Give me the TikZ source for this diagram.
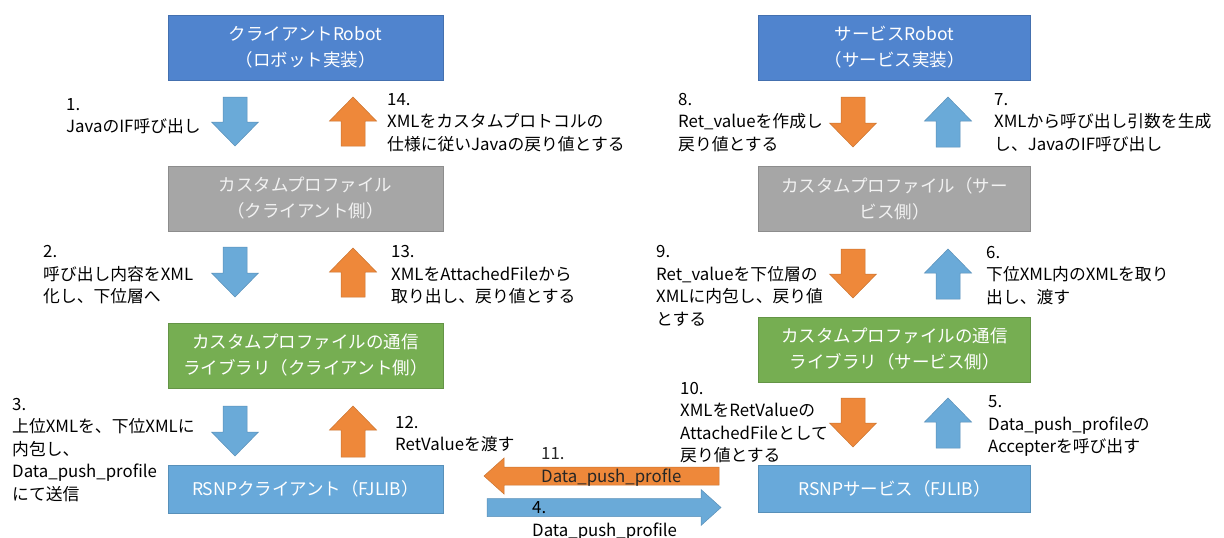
\documentclass[tikz,border=0pt]{standalone}
\usepackage{fontspec}
\setmainfont{Noto Sans CJK JP}
\usetikzlibrary{calc}
\definecolor{robotblue}{RGB}{80,132,206}
\definecolor{profgrey}{RGB}{166,166,166}
\definecolor{libgreen}{RGB}{118,174,82}
\definecolor{rsnpblue}{RGB}{104,169,218}
\definecolor{flowblue}{RGB}{106,170,216}
\definecolor{floworange}{RGB}{238,136,58}
% vertical block arrow: x, y of tail, y of tip, colour
\newcommand{\blockv}[4]{%
  \pgfmathsetmacro{\hb}{#3>#2 ? #3-24 : #3+24}
  \filldraw[fill=#4, draw=#4!85!black, line width=0.5pt] (#1-12,#2) -- (#1+12,#2) -- (#1+12,\hb) -- (#1+23.5,\hb) -- (#1,#3) -- (#1-23.5,\hb) -- (#1-12,\hb) -- cycle;}
% horizontal block arrow: y, x of tail, x of tip, colour
\newcommand{\blockh}[4]{%
  \pgfmathsetmacro{\hb}{#3>#2 ? #3-20 : #3+20}
  \filldraw[fill=#4, draw=#4!85!black, line width=0.5pt] (#2,#1-9) -- (#2,#1+9) -- (\hb,#1+9) -- (\hb,#1+18) -- (#3,#1) -- (\hb,#1-18) -- (\hb,#1-9) -- cycle;}
\begin{document}
\begin{tikzpicture}[x=1pt,y=-1pt,
    box/.style={minimum height=65, align=center, inner sep=0, text=white, line width=0.5pt,
      font=\fontsize{17.5}{26}\selectfont},
    lbox/.style={box, minimum width=275},
    rbox/.style={box, minimum width=272},
    lbl/.style={anchor=west, align=left, inner sep=0, font=\fontsize{16.8}{22.5}\selectfont}]
\useasboundingbox (0,0) rectangle (1224,538);
% boxes, client side
\node[lbox, fill=robotblue, draw=robotblue!85!black] (crobot) at (305.5,47.5) {クライアントRobot\\（ロボット実装）};
\node[lbox, fill=profgrey, draw=profgrey!85!black, text=white!95!black] (cprof) at (305.5,198.5) {カスタムプロファイル\\（クライアント側）};
\node[lbox, fill=libgreen, draw=libgreen!85!black] (clib) at (305.5,355.5) {カスタムプロファイルの通信\\ライブラリ（クライアント側）};
\node[lbox, fill=rsnpblue, draw=rsnpblue!85!black, minimum height=48] (crsnp) at (305.5,489) {RSNPクライアント（FJLIB）};
% boxes, service side
\node[rbox, fill=robotblue, draw=robotblue!85!black] (srobot) at (894.5,47.5) {サービスRobot\\（サービス実装）};
\node[rbox, fill=profgrey, draw=profgrey!85!black, text=white!95!black] (sprof) at (894.5,198.5) {カスタムプロファイル（サー\\ビス側）};
\node[rbox, fill=libgreen, draw=libgreen!85!black] (slib) at (894.5,349.5) {カスタムプロファイルの通信\\ライブラリ（サービス側）};
\node[rbox, fill=rsnpblue, draw=rsnpblue!85!black, minimum height=47] (srsnp) at (894.5,488.5) {RSNPサービス（FJLIB）};
% block arrows
\blockv{235}{97}{146}{flowblue}
\blockv{235}{247}{297}{flowblue}
\blockv{235}{406}{456}{flowblue}
\blockv{353}{146}{97}{floworange}
\blockv{353}{297}{248}{floworange}
\blockv{353}{457}{406}{floworange}
\blockv{853}{97}{147}{floworange}
\blockv{853}{249}{298}{floworange}
\blockv{853}{398}{447}{floworange}
\blockv{948}{147}{97}{flowblue}
\blockv{948}{299}{249}{flowblue}
\blockv{948}{448}{398}{flowblue}
\blockh{476}{719}{484}{floworange}
\blockh{507.5}{487}{721}{flowblue}
% step labels
\node[lbl] (s1) at (66,116) {1.\\JavaのIF呼び出し};
\node[lbl] (s2) at (43,275) {2.\\呼び出し内容をXML\\化し、下位層へ};
\node[lbl] (s3) at (12,450) {3.\\上位XMLを、下位XMLに\\内包し、\\Data\_push\_profile\\にて送信};
\node[lbl] (s4) at (532,521) {4.\\Data\_push\_profile};
\node[lbl] (s5) at (988,426) {5.\\Data\_push\_profileの\\Accepterを呼び出す};
\node[lbl] (s6) at (986,275.5) {6.\\下位XML内のXMLを取り\\出し、渡す};
\node[lbl] (s7) at (994,122.5) {7.\\XMLから呼び出し引数を生成\\し、JavaのIF呼び出し};
\node[lbl] (s8) at (678,122.5) {8.\\Ret\_valueを作成し\\戻り値とする};
\node[lbl] (s9) at (656,286) {9.\\Ret\_valueを下位層の\\XMLに内包し、戻り値\\とする};
\node[lbl] (s10) at (680,422.5) {10.\\XMLをRetValueの\\AttachedFileとして\\戻り値とする};
\node[lbl, text=black!85] (s11) at (541,467) {11.\\Data\_push\_profle};
\node[lbl] (s12) at (395,434) {12.\\RetValueを渡す};
\node[lbl] (s13) at (391,275) {13.\\XMLをAttachedFileから\\取り出し、戻り値とする};
\node[lbl] (s14) at (387,122.5) {14.\\XMLをカスタムプロトコルの\\仕様に従いJavaの戻り値とする};
\end{tikzpicture}
\end{document}
